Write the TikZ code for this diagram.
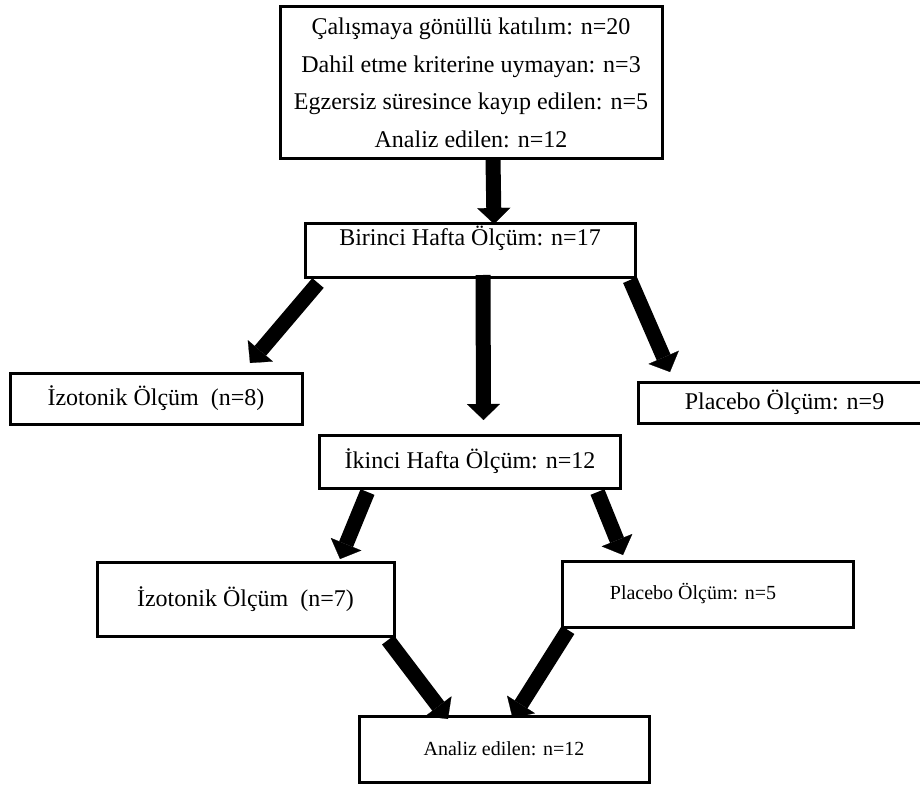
\documentclass[tikz,border=0pt]{standalone}
\usepackage{fontspec}
\setmainfont{Liberation Serif}
\usepackage{tikz}
\usetikzlibrary{arrows.meta, positioning}
\tikzset{
    box/.style={
        rectangle, draw, line width=1.5pt,
        inner sep=2pt, outer sep=0pt,
        align=center,
        font=\fontsize{12}{18.8}\selectfont
    },
    smallbox/.style={
        box,
        font=\fontsize{10}{12}\selectfont
    },
    topped/.style={
        text height=9pt,
        text depth=13.5pt
    },
    fat/.style={
        line width=7.5pt,
        -{Triangle[width=16.5pt, length=8pt, line width=0.1pt]},
    },
}

\begin{document}
\begin{tikzpicture}
            [x=0.5pt, y=-0.5pt]
            \useasboundingbox (0,0) rectangle (920,786);
            % Main chain
            \node[box, minimum width=191pt, minimum height=76pt] (start) at (471,83)
                {Çalışmaya gönüllü katılım: n=20\\
                 Dahil etme kriterine uymayan: n=3\\
                 Egzersiz süresince kayıp edilen: n=5\\
                 Analiz edilen: n=12};
            \node[box, topped, minimum width=165pt, minimum height=26.5pt,
                  below=32.5pt of start, xshift=-0.5pt] (week1) {Birinci Hafta Ölçüm: n=17};
            \node[box, minimum width=150.5pt, minimum height=26.5pt,
                  below=79pt of week1] (week2) {İkinci Hafta Ölçüm: n=12};
            \node[smallbox, minimum width=145pt, minimum height=33pt,
                  below=114pt of week2, xshift=17pt] (final) {Analiz edilen: n=12};

            % First week groups
            \node[box, minimum width=146pt, minimum height=25.5pt] (iso1) at (156,398.5)
                {İzotonik Ölçüm \ (n=8)};
            \node[box, minimum width=146.5pt, minimum height=20.5pt] (plc1) at (784.5,402.5)
                {Placebo Ölçüm: n=9};

            % Second week groups
            \node[box, minimum width=148.5pt, minimum height=37pt] (iso2) at (245.5,599)
                {İzotonik Ölçüm \ (n=7)};
            \node[smallbox, minimum width=145.5pt, minimum height=33pt] (plc2) at (707.5,594)
                {Placebo Ölçüm: n=5\hspace{14.5pt}};

            % Arrows
            \draw[fat] ([xshift=11]start.south) -- ([xshift=12]week1.north);
            \draw[fat] ([shift={(13,-2)}]week1.south) -- ([shift={(13.5,-15)}]week2.north);
            \draw[fat] ([shift={(13,6)}]week1.south west) -- ([shift={(-52,-10)}]iso1.north east);
            \draw[fat] ([shift={(-5,3)}]week1.south east) -- ([shift={(32,-10)}]plc1.north west);

            \draw[fat] ([shift={(48,4)}]week2.south west) -- ([shift={(-54,-3)}]iso2.north east);
            \draw[fat] ([shift={(-23,4)}]week2.south east) -- ([shift={(61,-6)}]plc2.north west);

            \draw[fat] ([shift={(-6,4)}]iso2.south east) -- ([shift={(89,3)}]final.north west);
            \draw[fat] ([shift={(6,3)}]plc2.south west) -- ([shift={(8.5,2)}]final.north);

        \end{tikzpicture}
\end{document}
